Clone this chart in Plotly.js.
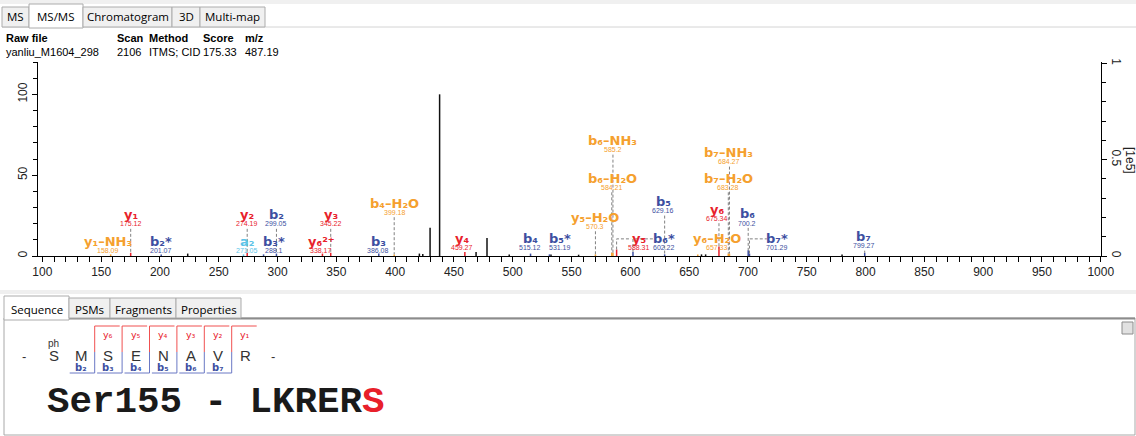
<!DOCTYPE html>
<html><head><meta charset="utf-8">
<script src="https://cdn.plot.ly/plotly-3.0.1.min.js"></script>
<style>html,body{margin:0;padding:0;background:#fff;overflow:hidden}#chart{width:1136px;height:436px}</style>
</head><body><div id="chart"></div>
<script>
// ---------------- DATA ----------------
const headerFields = ['Raw file', 'Scan', 'Method', 'Score', 'm/z'];
const headerValues = ['yanliu_M1604_298', '2106', 'ITMS; CID', '175.33', '487.19'];
const topTabs = ['MS', 'MS/MS', 'Chromatogram', '3D', 'Multi-map'];
const bottomTabs = ['Sequence', 'PSMs', 'Fragments', 'Properties'];

// unassigned peaks (m/z, relative intensity %)
const peakMz  = [223.6, 420.6, 423.5, 429.7, 437.8, 468.8, 478.1, 497.0, 532.5, 556.0, 660.5, 664.0, 780.0];
const peakInt = [1.5,   1.5,   1.2,   17.5,  100,   2.5,   11.2,  1.0,   1.0,   0.8,   1.0,   1.0,   1.0];

// annotated fragment ions
const ionLabel = ['y₁–NH₃','y₁','b₂*','a₂','y₂','b₂','b₃*','y₆²⁺','y₃','b₃','b₄–H₂O','y₄','b₄','b₅*','y₅–H₂O','b₆–NH₃','b₆–H₂O','y₅','b₅','b₆*','y₆','b₇–NH₃','b₇–H₂O','y₆–H₂O','b₆','b₇*','b₇'];
const ionType  = ['loss','y','b','a','y','b','b','y','y','b','loss','y','b','b','loss','loss','loss','y','b','b','y','loss','loss','loss','b','b','b'];
const ionMz    = [158.09,175.12,201.07,271.05,274.19,299.05,288.10,338.17,345.22,386.08,399.18,459.27,515.12,531.19,570.30,585.20,584.21,588.31,629.16,602.22,675.34,684.27,683.28,657.33,700.20,701.29,799.27];
const ionMzText= ['158.09','175.12','201.07','271.05','274.19','299.05','288.1','338.17','345.22','386.08','399.18','459.27','515.12','531.19','570.3','585.2','584.21','588.31','629.16','602.22','675.34','684.27','683.28','657.33','700.2','701.29','799.27'];
const ionInt   = [1.0,2.0,1.0,1.0,2.0,1.5,1.0,1.5,2.0,1.5,1.0,2.5,1.5,1.0,1.0,2.0,2.0,4.0,1.0,2.5,5.8,1.5,1.5,1.0,3.5,1.5,2.0];
// label placement (m/z of label centre, intensity level of label centre)
const labelMz  = [156,175.1,201,274,274.2,299,297,337,345.2,385.8,399.5,457,514.8,540,570.3,585.2,584.6,607,628,629,674,683.6,683.3,674,699.2,725,798.5];
const labelLvl = [8.8,25.4,8.8,8.8,25.4,25.4,8.8,8.8,25.4,8.8,32.6,10.9,10.6,10.6,23.9,71.3,48.0,10.6,33.6,10.6,28.9,63.9,48.0,10.6,26.0,10.6,11.9];

// sequence panel
const residues = ['S','M','S','E','N','A','V','R'];
const residueMods = ['ph','','','','','','',''];
const bSeries = [2,3,4,5,6,7];
const ySeries = [6,5,4,3,2,1];
const siteText = 'Ser155 - LKRER';
const siteResidue = 'S';

// ---------------- STYLE ----------------
const COLORS = {y:'#e8222c', b:'#3d4fa1', a:'#5ec4e8', loss:'#f5a02e'};
const SUB = {'₀':1,'₁':1,'₂':1,'₃':1,'₄':1,'₅':1,'₆':1,'₇':1,'₈':1,'₉':1,'²':1,'⁺':1};

// plot area in pixels
const L = 38, R = 1101, T = 62, B = 256;
const PX = p => (p - L) / (R - L);
const PY = p => (B - p) / (B - T);
const pxPerMz = (R - L) / (1000.2 - 96.3);

const shapes = [];
const annotations = [];
function rectPx(x0, y0, x1, y1, fill, line, lw) {
  shapes.push({type:'rect', xref:'paper', yref:'paper', x0:PX(x0), x1:PX(x1), y0:PY(y1), y1:PY(y0),
    fillcolor:fill, line:{color:line || 'rgba(0,0,0,0)', width:(lw == null ? 1 : lw)}, layer:'above'});
}
function linePx(x0, y0, x1, y1, color, w) {
  shapes.push({type:'line', xref:'paper', yref:'paper', x0:PX(x0), x1:PX(x1), y0:PY(y0), y1:PY(y1),
    line:{color:color, width:w || 1}, layer:'above'});
}
function textPx(x, y, text, o) {
  annotations.push({xref:'paper', yref:'paper', x:PX(x), y:PY(y), text:text, showarrow:false,
    xanchor:o.anchor || 'center', yanchor:'middle', borderpad:0,
    font:{family:o.family || 'Liberation Sans', size:o.size || 11, color:o.color || '#000', weight:o.weight || 'normal'}});
}

// ---------------- TRACES ----------------
function sticks(mz, inten) {
  const x = [], y = [];
  mz.forEach((m, i) => { x.push(m, m, null); y.push(0, inten[i], null); });
  return {x, y};
}
const traces = [];
const un = sticks(peakMz, peakInt);
traces.push({type:'scatter', mode:'lines', x:un.x, y:un.y, line:{color:'#111', width:1.5}, hoverinfo:'skip', showlegend:false});

['loss','a','b','y'].forEach(t => {
  const mz = [], it = [];
  ionType.forEach((tt, i) => { if (tt === t) { mz.push(ionMz[i]); it.push(ionInt[i]); } });
  const s = sticks(mz, it);
  traces.push({type:'scatter', mode:'lines', x:s.x, y:s.y, line:{color:COLORS[t], width:1.5}, hoverinfo:'skip', showlegend:false});
});

// connectors + labels
function labelWidthPx(txt) {
  let w = 0;
  for (const ch of txt) w += SUB[ch] ? 5.5 : (ch === '*' ? 6 : (ch === '–' ? 7 : 9.5));
  return w;
}
const cx = [], cy = [];
ionMz.forEach((m, i) => {
  const lx = labelMz[i], ly = labelLvl[i], h = ionInt[i];
  const valLvl = ly - 5.6;
  if (Math.abs(lx - m) <= 4) {
    const top = valLvl - 3;
    if (top > h + 0.5) { cx.push(m, m, null); cy.push(top, h, null); }
  } else {
    const left = lx - labelWidthPx(ionLabel[i]) / 2 / pxPerMz;
    if (left > m + 2) { cx.push(m, m, left, null); cy.push(h, ly, ly, null); }
  }
  annotations.push({x:lx, y:ly, xref:'x', yref:'y', text:ionLabel[i], showarrow:false, xanchor:'center', yanchor:'middle', borderpad:0,
    font:{family:'DejaVu Sans', size:13, weight:'bold', color:COLORS[ionType[i]]}});
  annotations.push({x:lx, y:valLvl, xref:'x', yref:'y', text:ionMzText[i], showarrow:false, xanchor:'center', yanchor:'middle', borderpad:0,
    font:{family:'Liberation Sans', size:7, color:COLORS[ionType[i]]}});
});
traces.push({type:'scatter', mode:'lines', x:cx, y:cy, line:{color:'#808080', width:1, dash:'3px,2px'}, hoverinfo:'skip', showlegend:false});
traces.push({type:'scatter', mode:'markers', x:[500], y:[0], yaxis:'y2', marker:{opacity:0}, hoverinfo:'skip', showlegend:false});

// right axis title
textPx(1130, 160, '[1e5]', {size:12, color:'#222'});
annotations[annotations.length - 1].textangle = 90;

// ---------------- UI DECORATIONS ----------------
rectPx(0, 0, 1136, 4, '#f0f0f0');
linePx(2, 27, 1136, 27, '#d4d4d4', 1);
const topEdges = [2, 29, 83, 172, 200, 265];
topTabs.forEach((t, i) => {
  const sel = i === 1;
  rectPx(topEdges[i], sel ? 4 : 7, topEdges[i + 1], sel ? 28 : 27, sel ? '#ffffff' : '#f0f0f0', '#acacac', 1);
  textPx((topEdges[i] + topEdges[i + 1]) / 2, 17, t, {family:'Open Sans', size:11.5, color:'#000'});
});
const hdrX = [5, 116, 148, 202, 244];
headerFields.forEach((f, i) => {
  textPx(hdrX[i], 38, f, {anchor:'left', size:11, weight:'bold', color:'#000', family:'Liberation Sans'});
  textPx(hdrX[i], 52, headerValues[i], {anchor:'left', size:11, color:'#000', family:'Liberation Sans'});
});

// bottom panel
rectPx(0, 290, 1136, 294, '#efefef');
rectPx(4, 318, 1135, 435, '#ffffff', '#a8a8a8', 1);
linePx(4, 318.5, 1135, 318.5, '#8c8c8c', 2);
const botEdges = [4, 69, 110, 176, 241];
bottomTabs.forEach((t, i) => {
  const sel = i === 0;
  rectPx(botEdges[i], sel ? 296 : 298, botEdges[i + 1], sel ? 320 : 318, sel ? '#ffffff' : '#f0f0f0', '#acacac', 1);
  textPx((botEdges[i] + botEdges[i + 1]) / 2, 309, t, {family:'Open Sans', size:11.5, color:'#000'});
});
rectPx(1122, 322, 1133, 334, '#e1e1e1', '#8c8c8c', 1);

// sequence
const seqX0 = 53.6, seqStep = 27.4, seqY = 355;
textPx(seqX0 - seqStep - 2, seqY + 1, '-', {size:13, color:'#333'});
textPx(seqX0 + residues.length * seqStep, seqY + 1, '-', {size:13, color:'#333'});
residues.forEach((r, i) => {
  const x = seqX0 + i * seqStep;
  textPx(x, seqY, r, {size:15, color:'#333'});
  if (residueMods[i]) textPx(x, seqY - 12, residueMods[i], {size:10, color:'#333'});
});
const boundary = k => seqX0 + (k - 0.5) * seqStep; // boundary after residue k (1-based)
bSeries.forEach(n => {
  const bx = boundary(n);
  linePx(bx, 352, bx, 373, '#6a78c4', 1);
  linePx(bx - 25, 373, bx, 373, '#6a78c4', 1);
  textPx(seqX0 + (n - 1) * seqStep, 367, 'b' + String.fromCharCode(0x2080 + n), {family:'DejaVu Sans', size:10, weight:'bold', color:COLORS.b});
});
ySeries.forEach(n => {
  const k = residues.length - n;
  const bx = boundary(k);
  linePx(bx, 326, bx, 352, '#f05050', 1);
  linePx(bx, 326, bx + 25, 326, '#f05050', 1);
  textPx(seqX0 + k * seqStep, 334, 'y' + String.fromCharCode(0x2080 + n), {family:'DejaVu Sans', size:9.5, color:COLORS.y});
});
textPx(46, 402, siteText + '<span style="color:#e8202a">' + siteResidue + '</span>', {anchor:'left', family:'Liberation Mono', size:37.5, weight:'bold', color:'#1a1a1a'});

// ---------------- LAYOUT ----------------
const tickFont = {family:'Liberation Sans', size:12, color:'#222'};
const layout = {
  width:1136, height:436,
  margin:{l:L, r:1136 - R, t:T, b:436 - B, autoexpand:false},
  paper_bgcolor:'#ffffff', plot_bgcolor:'#ffffff',
  showlegend:false,
  xaxis:{range:[96.3, 1000.2], tickmode:'linear', tick0:0, dtick:50, ticks:'outside', ticklen:5, tickwidth:1, tickcolor:'#000',
    showline:true, linecolor:'#000', linewidth:1, showgrid:false, zeroline:false, tickfont:tickFont,
    minor:{tickmode:'linear', tick0:0, dtick:10, ticks:'outside', ticklen:5, tickwidth:1, tickcolor:'#000', showgrid:false}},
  yaxis:{range:[0, 120], tickmode:'linear', tick0:0, dtick:50, ticks:'outside', ticklen:5, tickwidth:1, tickcolor:'#000', tickangle:-90,
    showline:true, linecolor:'#000', linewidth:1, showgrid:false, zeroline:false, tickfont:tickFont,
    minor:{tickmode:'linear', tick0:0, dtick:10, ticks:'outside', ticklen:4, tickwidth:1, tickcolor:'#000', showgrid:false}},
  yaxis2:{overlaying:'y', side:'right', range:[0, 1.0067], tickmode:'linear', tick0:0, dtick:0.5, ticks:'outside', ticklen:5, tickwidth:1,
    tickcolor:'#000', tickangle:90, showline:true, linecolor:'#000', linewidth:1, showgrid:false, zeroline:false, tickfont:tickFont,
    minor:{tickmode:'linear', tick0:0, dtick:0.1, ticks:'outside', ticklen:4, tickwidth:1, tickcolor:'#000', showgrid:false}},
  shapes:shapes,
  annotations:annotations
};
Plotly.newPlot('chart', traces, layout, {staticPlot:true, displayModeBar:false});
</script></body></html>
